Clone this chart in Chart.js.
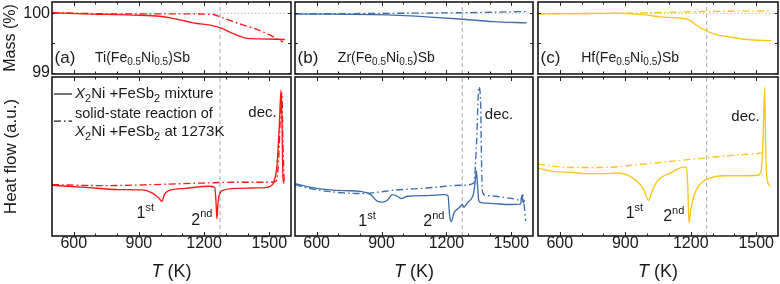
<!DOCTYPE html>
<html><head><meta charset="utf-8">
<script src="https://cdn.jsdelivr.net/npm/chart.js@4.4.1/dist/chart.umd.min.js"></script>
<style>
html,body{margin:0;padding:0;background:#fff;}
#wrap{position:relative;width:780px;height:284px;overflow:hidden;background:#fff;}
#wrap canvas{position:absolute;left:0;top:0;}
</style></head><body>
<div id="wrap">
<canvas id="ma" width="780" height="284"></canvas>
<canvas id="mb" width="780" height="284"></canvas>
<canvas id="mc" width="780" height="284"></canvas>
<canvas id="ha" width="780" height="284"></canvas>
<canvas id="hb" width="780" height="284"></canvas>
<canvas id="hc" width="780" height="284"></canvas>
</div>
<script>
// ---------------- data ----------------
const T_RANGE = [500, 1600];
const REACTION_T = 1273;
const xMajorTicks = [600, 900, 1200, 1500];
const xAllTicks = [500, 600, 700, 800, 900, 1000, 1100, 1200, 1300, 1400, 1500, 1600];
const massTickLabels = [99, 100];
const massAllTicks = [99, 99.5, 100];
const MASS_RANGE = [98.98, 100.19];
const HEAT_RANGE = [0, 100];

// Mass (%) — Ti
const massA_mix_T = [500, 644, 874, 997, 1089, 1150, 1242, 1273, 1334, 1396, 1457, 1572];
const massA_mix   = [100.01, 99.99, 99.97, 99.95, 99.89, 99.84, 99.79, 99.76, 99.66, 99.58, 99.57, 99.56];
const massA_ssr_T = [500, 800, 1100, 1242, 1273, 1334, 1426, 1457, 1499, 1563];
const massA_ssr   = [100.01, 99.99, 99.99, 99.98, 99.94, 99.86, 99.75, 99.71, 99.64, 99.52];
// Mass (%) — Zr
const massB_mix_T = [500, 954, 1108, 1278, 1416, 1571];
const massB_mix   = [99.99, 99.97, 99.94, 99.90, 99.86, 99.84];
const massB_ssr_T = [500, 954, 1273, 1571];
const massB_ssr   = [99.99, 100.0, 100.01, 100.03];
// Mass (%) — Hf
const massC_mix_T = [500, 876, 998, 1059, 1151, 1197, 1227, 1258, 1303, 1365, 1456, 1571];
const massC_mix   = [99.99, 100.0, 99.97, 99.94, 99.92, 99.88, 99.80, 99.73, 99.66, 99.61, 99.56, 99.54];
const massC_ssr_T = [500, 1027, 1273, 1571];
const massC_ssr   = [99.99, 100.01, 100.03, 100.04];

// Heat flow (a.u.) — Ti
const heatA_mix_T = [500, 653, 807, 914, 960, 991, 1006, 1017, 1037, 1114, 1221, 1249, 1255, 1259, 1264, 1272, 1290, 1328, 1420, 1489, 1505, 1520, 1535, 1546, 1554, 1558, 1563, 1568];
const heatA_mix   = [31.9, 30.6, 29.2, 29.0, 27.1, 24.0, 21.7, 26.0, 28.5, 30.0, 31.3, 30.6, 20.8, 10.8, 20.8, 26.7, 28.8, 29.8, 30.2, 30.6, 31.3, 33.8, 43.8, 68.8, 91.7, 75.0, 37.5, 33.0];
const heatA_ssr_T = [500, 730, 960, 1190, 1344, 1497, 1531, 1543, 1552, 1558, 1563, 1569];
const heatA_ssr   = [32.3, 31.7, 32.3, 33.3, 33.8, 33.8, 34.4, 47.9, 79.2, 90.0, 58.0, 33.3];
// Heat flow (a.u.) — Zr
const heatB_mix_T = [500, 572, 650, 726, 803, 850, 880, 903, 927, 950, 973, 991, 1019, 1111, 1188, 1207, 1215, 1222, 1235, 1258, 1273, 1281, 1296, 1312, 1324, 1332, 1338, 1344, 1350, 1365, 1419, 1496, 1542, 1550, 1555, 1561];
const heatB_mix   = [32.9, 30.6, 29.2, 28.5, 28.1, 26.0, 21.9, 21.3, 22.5, 26.0, 25.0, 23.5, 25.0, 25.4, 26.0, 25.4, 12.5, 9.0, 14.6, 17.7, 19.8, 18.1, 20.8, 22.9, 26.0, 33.3, 41.0, 31.3, 21.9, 20.8, 20.4, 19.8, 20.0, 25.4, 20.8, 22.5];
const heatB_ssr_T = [500, 572, 650, 726, 803, 880, 957, 1111, 1265, 1327, 1339, 1350, 1358, 1362, 1367, 1389, 1450, 1512, 1542, 1552, 1558, 1566];
const heatB_ssr   = [32.3, 29.8, 28.1, 27.1, 26.7, 27.5, 28.8, 30.2, 31.9, 33.3, 58.3, 93.8, 83.3, 47.9, 27.1, 25.4, 24.6, 23.3, 22.5, 26.0, 20.8, 9.4];
// Heat flow (a.u.) — Hf
const heatC_mix_T = [500, 572, 648, 725, 801, 862, 908, 954, 984, 1007, 1023, 1046, 1107, 1168, 1180, 1186, 1192, 1201, 1214, 1244, 1290, 1351, 1443, 1504, 1522, 1531, 1539, 1543, 1550, 1565];
const heatC_mix   = [42.7, 40.6, 40.0, 39.2, 39.2, 39.6, 38.5, 34.4, 29.2, 22.5, 28.1, 34.4, 39.6, 43.3, 43.3, 33.3, 8.3, 16.7, 25.0, 32.9, 36.5, 37.9, 37.9, 38.1, 40.6, 58.3, 93.8, 58.3, 35.4, 31.3];
const heatC_ssr_T = [500, 572, 648, 801, 954, 1107, 1259, 1412, 1519, 1535];
const heatC_ssr   = [45.2, 43.8, 43.1, 43.1, 44.8, 46.9, 49.0, 51.0, 52.1, 52.4];

// ---------------- styling / layout ----------------
const FONT = '"Liberation Sans", Arial, Helvetica, sans-serif';
const TXT = '#1a1a1a';
const RED = 'rgb(255,22,22)', BLUE = 'rgb(62,110,168)', YEL = 'rgb(255,198,20)';
const DASHDOT = [7, 3, 1.6, 3];
const PANEL_X = { a: [52, 291], b: [295, 533], c: [538, 778] };
const ROW_Y = { mass: [2, 74], heat: [77, 236] };

function pts(T, V) { return T.map((t, i) => ({ x: t, y: V[i] })); }

function drawRich(ctx, x, y, parts, size, align) {
  const segs = parts.map(([t, k]) => {
    const small = (k === 'sub' || k === 'sup');
    const s = small ? Math.round(size * 0.7) : size;
    const font = (k === 'i' ? 'italic ' : '') + s + 'px ' + FONT;
    ctx.font = font;
    const w = ctx.measureText(t).width;
    const dy = k === 'sub' ? size * 0.33 : (k === 'sup' ? -size * 0.38 : 0);
    return { t, font, w, dy };
  });
  const total = segs.reduce((s, g) => s + g.w, 0);
  let cx = align === 'center' ? x - total / 2 : (align === 'right' ? x - total : x);
  ctx.textBaseline = 'middle';
  ctx.textAlign = 'left';
  for (const g of segs) { ctx.font = g.font; ctx.fillText(g.t, cx, y + g.dy); cx += g.w; }
}

function framePlugin(cfg) {
  return {
    id: 'frame',
    afterDatasetsDraw(chart) {
      const { ctx, chartArea: a, scales: { x, y } } = chart;
      ctx.save();
      ctx.strokeStyle = '#222';
      ctx.lineWidth = 1;
      ctx.beginPath();
      for (const t of xAllTicks) {
        const px = Math.round(x.getPixelForValue(t)) + 0.5;
        if (px <= a.left + 1 || px >= a.right - 1) continue;
        const L = xMajorTicks.includes(t) ? 4 : 2.5;
        ctx.moveTo(px, a.top); ctx.lineTo(px, a.top + L);
        ctx.moveTo(px, a.bottom); ctx.lineTo(px, a.bottom - L);
      }
      if (cfg.row === 'mass') {
        for (const v of massAllTicks) {
          const py = Math.round(y.getPixelForValue(v)) + 0.5;
          ctx.moveTo(a.left, py); ctx.lineTo(a.left + 3, py);
          ctx.moveTo(a.right, py); ctx.lineTo(a.right - 3, py);
        }
      }
      ctx.stroke();
      ctx.lineWidth = 1.6;
      ctx.strokeStyle = '#1a1a1a';
      ctx.strokeRect(a.left, a.top, a.right - a.left, a.bottom - a.top);
      ctx.restore();
    },
    afterDraw(chart) {
      const { ctx, chartArea: a, scales: { x, y } } = chart;
      ctx.save();
      ctx.fillStyle = TXT;
      if (cfg.row === 'heat') {
        for (const t of xMajorTicks) drawRich(ctx, x.getPixelForValue(t), a.bottom + 8, [[String(t), '']], 16, 'center');
        drawRich(ctx, (a.left + a.right) / 2, 272, [['T', 'i'], [' (K)', '']], 18, 'center');
      }
      if (cfg.row === 'mass' && cfg.yLabels) {
        for (const v of massTickLabels) drawRich(ctx, a.left - 2, y.getPixelForValue(v), [[String(v), '']], 16, 'right');
      }
      if (cfg.yTitle) {
        ctx.save();
        ctx.translate(11, (a.top + a.bottom) / 2);
        ctx.rotate(-Math.PI / 2);
        drawRich(ctx, 0, 0, [[cfg.yTitle, '']], cfg.yTitleSize || 16, 'center');
        ctx.restore();
      }
      for (const n of (cfg.notes || [])) {
        drawRich(ctx, x.getPixelForValue(n.x), y.getPixelForValue(n.y), n.parts, n.size, n.align || 'left');
      }
      if (cfg.legend) {
        const L = cfg.legend;
        ctx.strokeStyle = '#1a1a1a';
        ctx.lineWidth = 1.2;
        ctx.beginPath();
        ctx.moveTo(x.getPixelForValue(L.x0), y.getPixelForValue(L.y1));
        ctx.lineTo(x.getPixelForValue(L.x1), y.getPixelForValue(L.y1));
        ctx.stroke();
        ctx.setLineDash(DASHDOT);
        ctx.beginPath();
        ctx.moveTo(x.getPixelForValue(L.x0), y.getPixelForValue(L.y2));
        ctx.lineTo(x.getPixelForValue(L.x1), y.getPixelForValue(L.y2));
        ctx.stroke();
        ctx.setLineDash([]);
      }
      ctx.restore();
    }
  };
}

function makePanel(id, col, row, series, cfg) {
  const [x0, x1] = PANEL_X[col];
  const [y0, y1] = ROW_Y[row];
  const yr = row === 'mass' ? MASS_RANGE : HEAT_RANGE;
  const datasets = series.map(s => ({
    data: pts(s.T, s.V), borderColor: s.color, borderWidth: 1.35,
    borderDash: s.dash ? DASHDOT : [], pointRadius: 0, fill: false,
    cubicInterpolationMode: 'monotone'
  }));
  datasets.push({ data: [{ x: REACTION_T, y: yr[0] }, { x: REACTION_T, y: yr[1] }], borderColor: '#b0b0b0', borderWidth: 1.1, borderDash: [4, 3], pointRadius: 0, fill: false });
  if (row === 'mass') datasets.push({ data: [{ x: T_RANGE[0], y: 100 }, { x: T_RANGE[1], y: 100 }], borderColor: '#bbbbbb', borderWidth: 1, borderDash: [1.5, 2], pointRadius: 0, fill: false });
  cfg.row = row;
  return new Chart(document.getElementById(id), {
    type: 'line',
    data: { datasets },
    options: {
      responsive: false, animation: false, devicePixelRatio: 1, events: [],
      layout: { padding: { left: x0, right: 780 - x1, top: y0, bottom: 284 - y1 } },
      plugins: { legend: { display: false }, tooltip: { enabled: false }, title: { display: false } },
      scales: {
        x: { type: 'linear', min: T_RANGE[0], max: T_RANGE[1], display: false },
        y: { type: 'linear', min: yr[0], max: yr[1], display: false }
      }
    },
    plugins: [framePlugin(cfg)]
  });
}

const formula = (el) => [[el + '(Fe', ''], ['0.5', 'sub'], ['Ni', ''], ['0.5', 'sub'], [')Sb', '']];
const massNotes = (lab, el) => [
  { x: 512, y: 99.25, parts: [[lab, '']], size: 17 },
  { x: 698, y: 99.25, parts: formula(el), size: 14 }
];

makePanel('ma', 'a', 'mass', [
  { T: massA_ssr_T, V: massA_ssr, color: RED, dash: true },
  { T: massA_mix_T, V: massA_mix, color: RED }
], { yLabels: true, yTitle: 'Mass (%)', yTitleSize: 16, notes: massNotes('(a)', 'Ti') });
makePanel('mb', 'b', 'mass', [
  { T: massB_ssr_T, V: massB_ssr, color: BLUE, dash: true },
  { T: massB_mix_T, V: massB_mix, color: BLUE }
], { notes: massNotes('(b)', 'Zr') });
makePanel('mc', 'c', 'mass', [
  { T: massC_ssr_T, V: massC_ssr, color: YEL, dash: true },
  { T: massC_mix_T, V: massC_mix, color: YEL }
], { notes: massNotes('(c)', 'Hf') });

const ord = (n, s) => [[n, ''], [s, 'sup']];
makePanel('ha', 'a', 'heat', [
  { T: heatA_ssr_T, V: heatA_ssr, color: RED, dash: true },
  { T: heatA_mix_T, V: heatA_mix, color: RED }
], {
  yTitle: 'Heat flow (a.u.)', yTitleSize: 17,
  legend: { x0: 509, x1: 592, y1: 89.3, y2: 72.3 },
  notes: [
    { x: 606, y: 89.3, parts: [['X', 'i'], ['2', 'sub'], ['Ni +FeSb', ''], ['2', 'sub'], [' mixture', '']], size: 15 },
    { x: 606, y: 76.7, parts: [['solid-state reaction of', '']], size: 14.5 },
    { x: 606, y: 65.4, parts: [['X', 'i'], ['2', 'sub'], ['Ni +FeSb', ''], ['2', 'sub'], [' at 1273K', '']], size: 15 },
    { x: 1469, y: 77.4, parts: [['dec.', '']], size: 15, align: 'center' },
    { x: 929, y: 14.0, parts: ord('1', 'st'), size: 16, align: 'center' },
    { x: 1190, y: 9.9, parts: ord('2', 'nd'), size: 16, align: 'center' }
  ]
});
makePanel('hb', 'b', 'heat', [
  { T: heatB_ssr_T, V: heatB_ssr, color: BLUE, dash: true },
  { T: heatB_mix_T, V: heatB_mix, color: BLUE }
], {
  notes: [
    { x: 1443, y: 76.1, parts: [['dec.', '']], size: 15, align: 'center' },
    { x: 833, y: 8.8, parts: ord('1', 'st'), size: 16, align: 'center' },
    { x: 1142, y: 8.8, parts: ord('2', 'nd'), size: 16, align: 'center' }
  ]
});
makePanel('hc', 'c', 'heat', [
  { T: heatC_ssr_T, V: heatC_ssr, color: YEL, dash: true },
  { T: heatC_mix_T, V: heatC_mix, color: YEL }
], {
  notes: [
    { x: 1451, y: 74.8, parts: [['dec.', '']], size: 15, align: 'center' },
    { x: 942, y: 14.0, parts: ord('1', 'st'), size: 16, align: 'center' },
    { x: 1122, y: 12.0, parts: ord('2', 'nd'), size: 16, align: 'center' }
  ]
});
</script>
</body></html>
